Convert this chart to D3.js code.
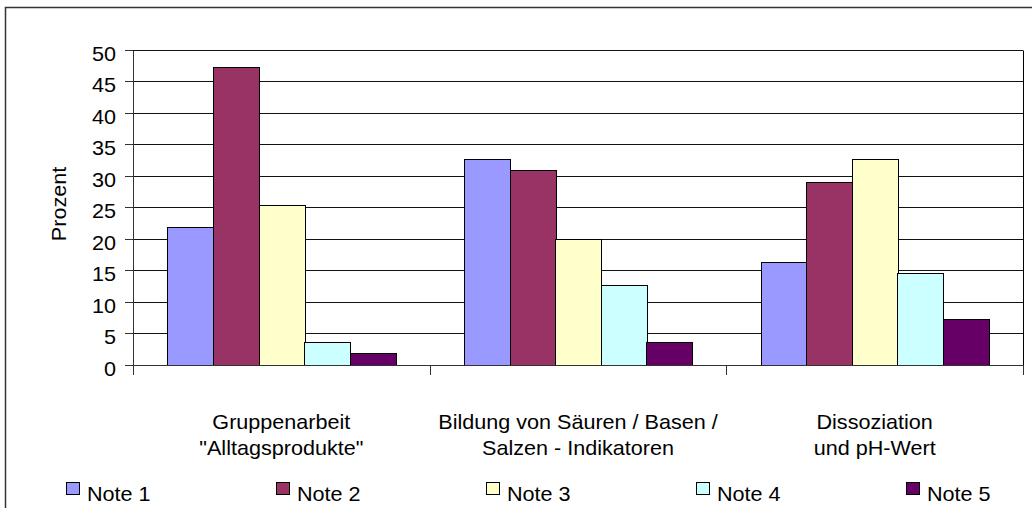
<!DOCTYPE html>
<html>
<head>
<meta charset="utf-8">
<script src="https://cdn.jsdelivr.net/npm/d3@7"></script>
<style>
  html, body { margin: 0; padding: 0; background: #fff; }
  svg { display: block; font-family: "Liberation Sans", Arial, sans-serif; }
</style>
</head>
<body>
<svg id="chart" width="1032" height="508"></svg>
<script>
// data
const categories = [
  ['Gruppenarbeit', '"Alltagsprodukte"'],
  ['Bildung von Säuren / Basen /', 'Salzen - Indikatoren'],
  ['Dissoziation', 'und pH-Wert']
];
const seriesNames = ['Note 1', 'Note 2', 'Note 3', 'Note 4', 'Note 5'];
const seriesColors = ['#9999FF', '#993366', '#FFFFCC', '#CCFFFF', '#660066'];
const note1 = [21.8, 32.7, 16.3];
const note2 = [47.3, 30.9, 29.0];
const note3 = [25.4, 20.0, 32.7];
const note4 = [3.6, 12.7, 14.5];
const note5 = [1.8, 3.6, 7.3];
const yTicks = [0, 5, 10, 15, 20, 25, 30, 35, 40, 45, 50];

const seriesValues = [note1, note2, note3, note4, note5];

const svg = d3.select('#chart');
const SX = 1.08;       // the source picture is stretched sideways a bit
const FS = 20;

// text helper: stretched horizontally like the original
function label(parent, x, y, str, anchor) {
  const g = parent.append('g').attr('transform', `translate(${x},${y}) scale(${SX},1)`);
  g.append('text')
    .attr('text-anchor', anchor || 'start')
    .attr('font-size', FS)
    .attr('fill', '#000')
    .text(str);
  return g;
}

// outer chart border (cut off at right and bottom in the source)
svg.append('path')
  .attr('d', 'M5.5,520 V7.5 H1040')
  .attr('fill', 'none')
  .attr('stroke', '#333')
  .attr('stroke-width', 1.5);

const plotLeft = 133, plotRight = 1023, plotTop = 50, plotBottom = 364.5;

const x0 = d3.scaleBand()
  .domain(d3.range(categories.length))
  .range([plotLeft, plotRight])
  .paddingInner(0).paddingOuter(0);

const x1 = d3.scaleBand()
  .domain(d3.range(seriesNames.length))
  .range([0, x0.bandwidth()])
  .paddingInner(0).paddingOuter(0.75);

const y = d3.scaleLinear().domain([0, 50]).range([plotBottom, plotTop]);

// gridlines
svg.append('g')
  .selectAll('line')
  .data(yTicks.filter(d => d > 0))
  .enter().append('line')
  .attr('x1', plotLeft).attr('x2', plotRight)
  .attr('y1', d => Math.round(y(d)) + 0.5)
  .attr('y2', d => Math.round(y(d)) + 0.5)
  .attr('stroke', '#111')
  .attr('stroke-width', 1);

// plot area right border
svg.append('line')
  .attr('x1', plotRight + 0.5).attr('x2', plotRight + 0.5)
  .attr('y1', Math.round(y(50)) + 0.5).attr('y2', Math.round(y(0)) + 0.5)
  .attr('stroke', '#000');

// bars
seriesValues.forEach((vals, si) => {
  svg.append('g')
    .selectAll('rect')
    .data(vals)
    .enter().append('rect')
    .attr('x', (d, i) => Math.round(x0(i) + x1(si)) + 0.5)
    .attr('width', Math.round(x1.bandwidth()))
    .attr('y', d => Math.round(y(d)) + 0.5)
    .attr('height', d => Math.round(y(0)) - Math.round(y(d)))
    .attr('fill', seriesColors[si])
    .attr('stroke', '#000')
    .attr('stroke-width', 1);
});

// y axis
const yAxis = svg.append('g');
yAxis.append('line')
  .attr('x1', plotLeft + 0.5).attr('x2', plotLeft + 0.5)
  .attr('y1', Math.round(y(50)) + 0.5).attr('y2', Math.round(y(0)) + 10)
  .attr('stroke', '#333');
yAxis.selectAll('line.tick')
  .data(yTicks)
  .enter().append('line')
  .attr('class', 'tick')
  .attr('x1', plotLeft - 8).attr('x2', plotLeft)
  .attr('y1', d => Math.round(y(d)) + 0.5)
  .attr('y2', d => Math.round(y(d)) + 0.5)
  .attr('stroke', '#333');
yTicks.forEach(t => {
  label(svg, 116, Math.round(y(t)) + 11, String(t), 'end');
});

// axis title
svg.append('g')
  .attr('transform', `translate(66,204) rotate(-90) scale(${SX},1)`)
  .append('text')
  .attr('text-anchor', 'middle')
  .attr('font-size', FS)
  .text('Prozent');

// x axis
svg.append('line')
  .attr('x1', plotLeft).attr('x2', plotRight + 1)
  .attr('y1', Math.round(y(0)) + 0.5).attr('y2', Math.round(y(0)) + 0.5)
  .attr('stroke', '#333');
svg.selectAll('line.xtick')
  .data(d3.range(categories.length + 1))
  .enter().append('line')
  .attr('class', 'xtick')
  .attr('x1', i => Math.round(i < categories.length ? x0(i) : plotRight) + 0.5)
  .attr('x2', i => Math.round(i < categories.length ? x0(i) : plotRight) + 0.5)
  .attr('y1', Math.round(y(0)))
  .attr('y2', Math.round(y(0)) + 10)
  .attr('stroke', '#333');

// category labels
categories.forEach((lines, i) => {
  const cx = x0(i) + x0.bandwidth() / 2;
  lines.forEach((ln, j) => label(svg, cx, 429 + j * 26, ln, 'middle'));
});

// legend
const legendX = d3.scaleLinear().domain([0, seriesNames.length - 1]).range([66, 906]);
seriesNames.forEach((name, i) => {
  const lx = Math.round(legendX(i));
  svg.append('rect')
    .attr('x', lx + 0.5).attr('y', 482.5)
    .attr('width', 13).attr('height', 12)
    .attr('fill', seriesColors[i])
    .attr('stroke', '#000');
  label(svg, lx + 21, 501, name, 'start');
});
</script>
</body>
</html>
